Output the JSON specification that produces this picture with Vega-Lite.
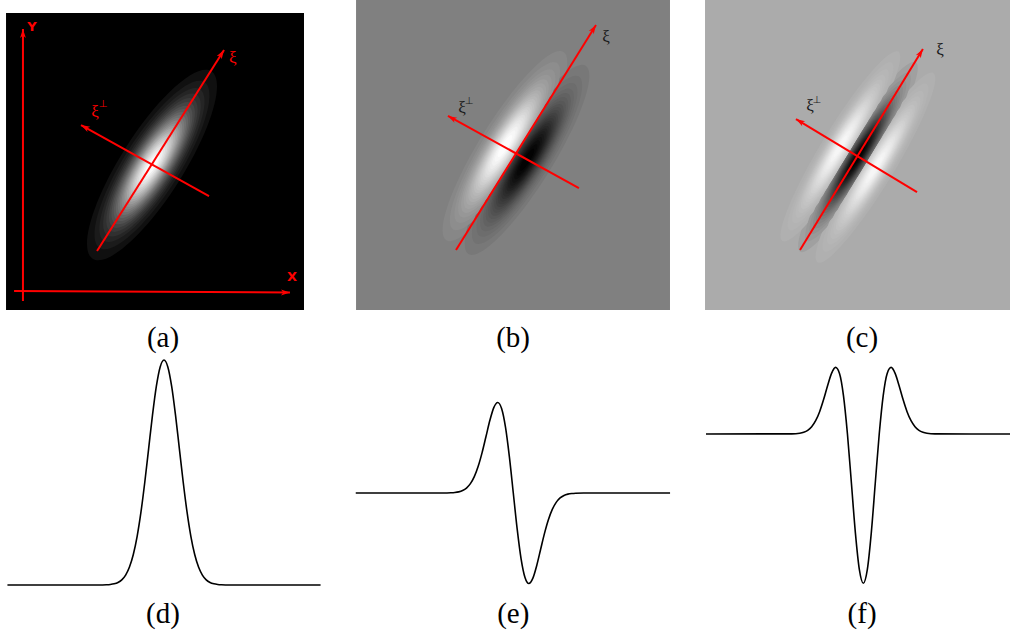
{
  "$schema": "https://vega.github.io/schema/vega-lite/v6.json",
  "padding": 0,
  "background": "white",
  "spacing": 0,
  "config": {"view": {"stroke": null}, "concat": {"spacing": 0}},
  "datasets": {
    "frames": [
      {"panel": "a", "x": -0.983, "x2": 1.0236, "y": -0.976, "y2": 1.0236, "level": 0},
      {"panel": "b", "x": -1.032, "x2": 0.9935, "y": -1.0129, "y2": 0.987, "level": 0.5},
      {"panel": "c", "x": -0.987, "x2": 0.981, "y": -0.987, "y2": 1.0129, "level": 0.67}
    ],
    "blobs": [
      {"panel": "a", "x": 0, "y": 0, "r": 2.521, "level": 0.0625},
      {"panel": "a", "x": 0, "y": 0, "r": 2.229, "level": 0.1042},
      {"panel": "a", "x": 0, "y": 0, "r": 2.039, "level": 0.1458},
      {"panel": "a", "x": 0, "y": 0, "r": 1.893, "level": 0.1875},
      {"panel": "a", "x": 0, "y": 0, "r": 1.771, "level": 0.2292},
      {"panel": "a", "x": 0, "y": 0, "r": 1.665, "level": 0.2708},
      {"panel": "a", "x": 0, "y": 0, "r": 1.570, "level": 0.3125},
      {"panel": "a", "x": 0, "y": 0, "r": 1.482, "level": 0.3542},
      {"panel": "a", "x": 0, "y": 0, "r": 1.401, "level": 0.3958},
      {"panel": "a", "x": 0, "y": 0, "r": 1.323, "level": 0.4375},
      {"panel": "a", "x": 0, "y": 0, "r": 1.249, "level": 0.4792},
      {"panel": "a", "x": 0, "y": 0, "r": 1.177, "level": 0.5208},
      {"panel": "a", "x": 0, "y": 0, "r": 1.107, "level": 0.5625},
      {"panel": "a", "x": 0, "y": 0, "r": 1.038, "level": 0.6042},
      {"panel": "a", "x": 0, "y": 0, "r": 0.970, "level": 0.6458},
      {"panel": "a", "x": 0, "y": 0, "r": 0.9005, "level": 0.6875},
      {"panel": "a", "x": 0, "y": 0, "r": 0.8305, "level": 0.7292},
      {"panel": "a", "x": 0, "y": 0, "r": 0.7585, "level": 0.7708},
      {"panel": "a", "x": 0, "y": 0, "r": 0.6835, "level": 0.8125},
      {"panel": "a", "x": 0, "y": 0, "r": 0.6039, "level": 0.8542},
      {"panel": "a", "x": 0, "y": 0, "r": 0.5168, "level": 0.8958},
      {"panel": "a", "x": 0, "y": 0, "r": 0.4172, "level": 0.9375},
      {"panel": "a", "x": 0, "y": 0, "r": 0.2918, "level": 0.9792},

      {"panel": "b", "x": -0.0712, "y": 0.0443, "r": 2.521, "level": 0.531},
      {"panel": "b", "x": 0.0712, "y": -0.0443, "r": 2.521, "level": 0.469},
      {"panel": "b", "x": -0.0712, "y": 0.0443, "r": 2.229, "level": 0.552},
      {"panel": "b", "x": 0.0712, "y": -0.0443, "r": 2.229, "level": 0.448},
      {"panel": "b", "x": -0.0712, "y": 0.0443, "r": 2.039, "level": 0.573},
      {"panel": "b", "x": 0.0712, "y": -0.0443, "r": 2.039, "level": 0.427},
      {"panel": "b", "x": -0.0712, "y": 0.0443, "r": 1.893, "level": 0.594},
      {"panel": "b", "x": 0.0712, "y": -0.0443, "r": 1.893, "level": 0.406},
      {"panel": "b", "x": -0.0712, "y": 0.0443, "r": 1.771, "level": 0.615},
      {"panel": "b", "x": 0.0712, "y": -0.0443, "r": 1.771, "level": 0.385},
      {"panel": "b", "x": -0.0712, "y": 0.0443, "r": 1.665, "level": 0.635},
      {"panel": "b", "x": 0.0712, "y": -0.0443, "r": 1.665, "level": 0.365},
      {"panel": "b", "x": -0.0712, "y": 0.0443, "r": 1.570, "level": 0.656},
      {"panel": "b", "x": 0.0712, "y": -0.0443, "r": 1.570, "level": 0.344},
      {"panel": "b", "x": -0.0712, "y": 0.0443, "r": 1.482, "level": 0.677},
      {"panel": "b", "x": 0.0712, "y": -0.0443, "r": 1.482, "level": 0.323},
      {"panel": "b", "x": -0.0712, "y": 0.0443, "r": 1.401, "level": 0.698},
      {"panel": "b", "x": 0.0712, "y": -0.0443, "r": 1.401, "level": 0.302},
      {"panel": "b", "x": -0.0712, "y": 0.0443, "r": 1.323, "level": 0.719},
      {"panel": "b", "x": 0.0712, "y": -0.0443, "r": 1.323, "level": 0.281},
      {"panel": "b", "x": -0.0712, "y": 0.0443, "r": 1.249, "level": 0.740},
      {"panel": "b", "x": 0.0712, "y": -0.0443, "r": 1.249, "level": 0.260},
      {"panel": "b", "x": -0.0712, "y": 0.0443, "r": 1.177, "level": 0.760},
      {"panel": "b", "x": 0.0712, "y": -0.0443, "r": 1.177, "level": 0.240},
      {"panel": "b", "x": -0.0712, "y": 0.0443, "r": 1.107, "level": 0.781},
      {"panel": "b", "x": 0.0712, "y": -0.0443, "r": 1.107, "level": 0.219},
      {"panel": "b", "x": -0.0712, "y": 0.0443, "r": 1.038, "level": 0.802},
      {"panel": "b", "x": 0.0712, "y": -0.0443, "r": 1.038, "level": 0.198},
      {"panel": "b", "x": -0.0712, "y": 0.0443, "r": 0.970, "level": 0.823},
      {"panel": "b", "x": 0.0712, "y": -0.0443, "r": 0.970, "level": 0.177},
      {"panel": "b", "x": -0.0712, "y": 0.0443, "r": 0.9005, "level": 0.844},
      {"panel": "b", "x": 0.0712, "y": -0.0443, "r": 0.9005, "level": 0.156},
      {"panel": "b", "x": -0.0712, "y": 0.0443, "r": 0.8305, "level": 0.865},
      {"panel": "b", "x": 0.0712, "y": -0.0443, "r": 0.8305, "level": 0.135},
      {"panel": "b", "x": -0.0712, "y": 0.0443, "r": 0.7585, "level": 0.885},
      {"panel": "b", "x": 0.0712, "y": -0.0443, "r": 0.7585, "level": 0.115},
      {"panel": "b", "x": -0.0712, "y": 0.0443, "r": 0.6835, "level": 0.906},
      {"panel": "b", "x": 0.0712, "y": -0.0443, "r": 0.6835, "level": 0.094},
      {"panel": "b", "x": -0.0712, "y": 0.0443, "r": 0.6039, "level": 0.927},
      {"panel": "b", "x": 0.0712, "y": -0.0443, "r": 0.6039, "level": 0.073},
      {"panel": "b", "x": -0.0712, "y": 0.0443, "r": 0.5168, "level": 0.948},
      {"panel": "b", "x": 0.0712, "y": -0.0443, "r": 0.5168, "level": 0.052},
      {"panel": "b", "x": -0.0712, "y": 0.0443, "r": 0.4172, "level": 0.969},
      {"panel": "b", "x": 0.0712, "y": -0.0443, "r": 0.4172, "level": 0.031},
      {"panel": "b", "x": -0.0712, "y": 0.0443, "r": 0.2918, "level": 0.990},
      {"panel": "b", "x": 0.0712, "y": -0.0443, "r": 0.2918, "level": 0.010},

      {"panel": "c", "x": 0, "y": 0, "r": 2.521, "level": 0.628},
      {"panel": "c", "x": -0.1128, "y": 0.0691, "r": 2.521, "level": 0.689},
      {"panel": "c", "x": 0.1128, "y": -0.0691, "r": 2.521, "level": 0.689},
      {"panel": "c", "x": 0, "y": 0, "r": 2.229, "level": 0.600},
      {"panel": "c", "x": -0.1128, "y": 0.0691, "r": 2.229, "level": 0.701},
      {"panel": "c", "x": 0.1128, "y": -0.0691, "r": 2.229, "level": 0.701},
      {"panel": "c", "x": 0, "y": 0, "r": 2.039, "level": 0.572},
      {"panel": "c", "x": -0.1128, "y": 0.0691, "r": 2.039, "level": 0.714},
      {"panel": "c", "x": 0.1128, "y": -0.0691, "r": 2.039, "level": 0.714},
      {"panel": "c", "x": 0, "y": 0, "r": 1.893, "level": 0.544},
      {"panel": "c", "x": -0.1128, "y": 0.0691, "r": 1.893, "level": 0.726},
      {"panel": "c", "x": 0.1128, "y": -0.0691, "r": 1.893, "level": 0.726},
      {"panel": "c", "x": 0, "y": 0, "r": 1.771, "level": 0.516},
      {"panel": "c", "x": -0.1128, "y": 0.0691, "r": 1.771, "level": 0.739},
      {"panel": "c", "x": 0.1128, "y": -0.0691, "r": 1.771, "level": 0.739},
      {"panel": "c", "x": 0, "y": 0, "r": 1.665, "level": 0.489},
      {"panel": "c", "x": -0.1128, "y": 0.0691, "r": 1.665, "level": 0.751},
      {"panel": "c", "x": 0.1128, "y": -0.0691, "r": 1.665, "level": 0.751},
      {"panel": "c", "x": 0, "y": 0, "r": 1.570, "level": 0.461},
      {"panel": "c", "x": -0.1128, "y": 0.0691, "r": 1.570, "level": 0.764},
      {"panel": "c", "x": 0.1128, "y": -0.0691, "r": 1.570, "level": 0.764},
      {"panel": "c", "x": 0, "y": 0, "r": 1.482, "level": 0.433},
      {"panel": "c", "x": -0.1128, "y": 0.0691, "r": 1.482, "level": 0.776},
      {"panel": "c", "x": 0.1128, "y": -0.0691, "r": 1.482, "level": 0.776},
      {"panel": "c", "x": 0, "y": 0, "r": 1.401, "level": 0.405},
      {"panel": "c", "x": -0.1128, "y": 0.0691, "r": 1.401, "level": 0.789},
      {"panel": "c", "x": 0.1128, "y": -0.0691, "r": 1.401, "level": 0.789},
      {"panel": "c", "x": 0, "y": 0, "r": 1.323, "level": 0.377},
      {"panel": "c", "x": -0.1128, "y": 0.0691, "r": 1.323, "level": 0.801},
      {"panel": "c", "x": 0.1128, "y": -0.0691, "r": 1.323, "level": 0.801},
      {"panel": "c", "x": 0, "y": 0, "r": 1.249, "level": 0.349},
      {"panel": "c", "x": -0.1128, "y": 0.0691, "r": 1.249, "level": 0.814},
      {"panel": "c", "x": 0.1128, "y": -0.0691, "r": 1.249, "level": 0.814},
      {"panel": "c", "x": 0, "y": 0, "r": 1.177, "level": 0.321},
      {"panel": "c", "x": -0.1128, "y": 0.0691, "r": 1.177, "level": 0.826},
      {"panel": "c", "x": 0.1128, "y": -0.0691, "r": 1.177, "level": 0.826},
      {"panel": "c", "x": 0, "y": 0, "r": 1.107, "level": 0.293},
      {"panel": "c", "x": -0.1128, "y": 0.0691, "r": 1.107, "level": 0.839},
      {"panel": "c", "x": 0.1128, "y": -0.0691, "r": 1.107, "level": 0.839},
      {"panel": "c", "x": 0, "y": 0, "r": 1.038, "level": 0.265},
      {"panel": "c", "x": -0.1128, "y": 0.0691, "r": 1.038, "level": 0.851},
      {"panel": "c", "x": 0.1128, "y": -0.0691, "r": 1.038, "level": 0.851},
      {"panel": "c", "x": 0, "y": 0, "r": 0.970, "level": 0.237},
      {"panel": "c", "x": -0.1128, "y": 0.0691, "r": 0.970, "level": 0.864},
      {"panel": "c", "x": 0.1128, "y": -0.0691, "r": 0.970, "level": 0.864},
      {"panel": "c", "x": 0, "y": 0, "r": 0.9005, "level": 0.209},
      {"panel": "c", "x": -0.1128, "y": 0.0691, "r": 0.9005, "level": 0.876},
      {"panel": "c", "x": 0.1128, "y": -0.0691, "r": 0.9005, "level": 0.876},
      {"panel": "c", "x": 0, "y": 0, "r": 0.8305, "level": 0.181},
      {"panel": "c", "x": -0.1128, "y": 0.0691, "r": 0.8305, "level": 0.889},
      {"panel": "c", "x": 0.1128, "y": -0.0691, "r": 0.8305, "level": 0.889},
      {"panel": "c", "x": 0, "y": 0, "r": 0.7585, "level": 0.154},
      {"panel": "c", "x": -0.1128, "y": 0.0691, "r": 0.7585, "level": 0.901},
      {"panel": "c", "x": 0.1128, "y": -0.0691, "r": 0.7585, "level": 0.901},
      {"panel": "c", "x": 0, "y": 0, "r": 0.6835, "level": 0.126},
      {"panel": "c", "x": -0.1128, "y": 0.0691, "r": 0.6835, "level": 0.914},
      {"panel": "c", "x": 0.1128, "y": -0.0691, "r": 0.6835, "level": 0.914},
      {"panel": "c", "x": 0, "y": 0, "r": 0.6039, "level": 0.098},
      {"panel": "c", "x": -0.1128, "y": 0.0691, "r": 0.6039, "level": 0.926},
      {"panel": "c", "x": 0.1128, "y": -0.0691, "r": 0.6039, "level": 0.926},
      {"panel": "c", "x": 0, "y": 0, "r": 0.5168, "level": 0.070},
      {"panel": "c", "x": -0.1128, "y": 0.0691, "r": 0.5168, "level": 0.939},
      {"panel": "c", "x": 0.1128, "y": -0.0691, "r": 0.5168, "level": 0.939},
      {"panel": "c", "x": 0, "y": 0, "r": 0.4172, "level": 0.042},
      {"panel": "c", "x": -0.1128, "y": 0.0691, "r": 0.4172, "level": 0.951},
      {"panel": "c", "x": 0.1128, "y": -0.0691, "r": 0.4172, "level": 0.951},
      {"panel": "c", "x": 0, "y": 0, "r": 0.2918, "level": 0.014},
      {"panel": "c", "x": -0.1128, "y": 0.0691, "r": 0.2918, "level": 0.964},
      {"panel": "c", "x": 0.1128, "y": -0.0691, "r": 0.2918, "level": 0.964}
    ],
    "arrows": [
      {"panel": "a", "x": -0.370, "y": -0.579, "x2": 0.485, "y2": 0.774, "heading": 32.3},
      {"panel": "a", "x": 0.384, "y": -0.209, "x2": -0.478, "y2": 0.269, "heading": -61.0},
      {"panel": "a", "x": -0.869, "y": -0.916, "x2": -0.869, "y2": 0.916, "heading": 0},
      {"panel": "a", "x": -0.929, "y": -0.848, "x2": 0.929, "y2": -0.859, "heading": 90.3},
      {"panel": "b", "x": -0.387, "y": -0.626, "x2": 0.516, "y2": 0.826, "heading": 31.9},
      {"panel": "b", "x": 0.406, "y": -0.226, "x2": -0.439, "y2": 0.239, "heading": -61.2},
      {"panel": "c", "x": -0.374, "y": -0.600, "x2": 0.419, "y2": 0.697, "heading": 31.4},
      {"panel": "c", "x": 0.381, "y": -0.226, "x2": -0.400, "y2": 0.245, "heading": -58.9}
    ],
    "labels": [
      {"panel": "a", "x": 0.544, "y": 0.720, "text": "ξ", "kind": "sym"},
      {"panel": "a", "x": -0.384, "y": 0.357, "text": "ξ", "kind": "sym"},
      {"panel": "a", "x": -0.330, "y": 0.411, "text": "⊥", "kind": "sup"},
      {"panel": "a", "x": -0.808, "y": 0.929, "text": "Y", "kind": "axis"},
      {"panel": "a", "x": 0.943, "y": -0.754, "text": "X", "kind": "axis"},
      {"panel": "b", "x": 0.581, "y": 0.748, "text": "ξ", "kind": "sym"},
      {"panel": "b", "x": -0.348, "y": 0.290, "text": "ξ", "kind": "sym"},
      {"panel": "b", "x": -0.303, "y": 0.335, "text": "⊥", "kind": "sup"},
      {"panel": "c", "x": 0.529, "y": 0.690, "text": "ξ", "kind": "sym"},
      {"panel": "c", "x": -0.310, "y": 0.329, "text": "ξ", "kind": "sym"},
      {"panel": "c", "x": -0.265, "y": 0.368, "text": "⊥", "kind": "sup"}
    ],
    "captions": [
      {"panel": "a", "x": 0.074, "y": -1.165, "text": "(a)"},
      {"panel": "b", "x": -0.019, "y": -1.194, "text": "(b)"},
      {"panel": "c", "x": 0.026, "y": -1.168, "text": "(c)"},
      {"panel": "d", "x": -0.07, "y": -0.1289, "text": "(d)"},
      {"panel": "e", "x": 0, "y": -1.337, "text": "(e)"},
      {"panel": "f", "x": -0.08, "y": -1.2056, "text": "(f)"}
    ],
    "curves": [
      {"panel": "d", "x": -10.2, "y": 0}, {"panel": "d", "x": -4.5, "y": 0}, {"panel": "d", "x": -4, "y": 0.0003},
      {"panel": "d", "x": -3.75, "y": 0.0009}, {"panel": "d", "x": -3.5, "y": 0.0022}, {"panel": "d", "x": -3.25, "y": 0.0051},
      {"panel": "d", "x": -3, "y": 0.0111}, {"panel": "d", "x": -2.75, "y": 0.0228}, {"panel": "d", "x": -2.5, "y": 0.0439},
      {"panel": "d", "x": -2.25, "y": 0.0796}, {"panel": "d", "x": -2, "y": 0.1353}, {"panel": "d", "x": -1.75, "y": 0.2163},
      {"panel": "d", "x": -1.5, "y": 0.3247}, {"panel": "d", "x": -1.25, "y": 0.4578}, {"panel": "d", "x": -1, "y": 0.6065},
      {"panel": "d", "x": -0.75, "y": 0.7548}, {"panel": "d", "x": -0.5, "y": 0.8825}, {"panel": "d", "x": -0.25, "y": 0.9692},
      {"panel": "d", "x": 0, "y": 1},
      {"panel": "d", "x": 0.25, "y": 0.9692}, {"panel": "d", "x": 0.5, "y": 0.8825}, {"panel": "d", "x": 0.75, "y": 0.7548},
      {"panel": "d", "x": 1, "y": 0.6065}, {"panel": "d", "x": 1.25, "y": 0.4578}, {"panel": "d", "x": 1.5, "y": 0.3247},
      {"panel": "d", "x": 1.75, "y": 0.2163}, {"panel": "d", "x": 2, "y": 0.1353}, {"panel": "d", "x": 2.25, "y": 0.0796},
      {"panel": "d", "x": 2.5, "y": 0.0439}, {"panel": "d", "x": 2.75, "y": 0.0228}, {"panel": "d", "x": 3, "y": 0.0111},
      {"panel": "d", "x": 3.25, "y": 0.0051}, {"panel": "d", "x": 3.5, "y": 0.0022}, {"panel": "d", "x": 3.75, "y": 0.0009},
      {"panel": "d", "x": 4, "y": 0.0003}, {"panel": "d", "x": 4.5, "y": 0}, {"panel": "d", "x": 10.2, "y": 0},

      {"panel": "e", "x": -10.1, "y": 0}, {"panel": "e", "x": -4.5, "y": 0}, {"panel": "e", "x": -4, "y": 0.0022},
      {"panel": "e", "x": -3.75, "y": 0.0055}, {"panel": "e", "x": -3.5, "y": 0.0127}, {"panel": "e", "x": -3.25, "y": 0.0272},
      {"panel": "e", "x": -3, "y": 0.0549}, {"panel": "e", "x": -2.75, "y": 0.1034}, {"panel": "e", "x": -2.5, "y": 0.1809},
      {"panel": "e", "x": -2.25, "y": 0.2953}, {"panel": "e", "x": -2, "y": 0.4463}, {"panel": "e", "x": -1.75, "y": 0.6241},
      {"panel": "e", "x": -1.5, "y": 0.8030}, {"panel": "e", "x": -1.25, "y": 0.9436}, {"panel": "e", "x": -1, "y": 1},
      {"panel": "e", "x": -0.75, "y": 0.9334}, {"panel": "e", "x": -0.5, "y": 0.7274}, {"panel": "e", "x": -0.25, "y": 0.3995},
      {"panel": "e", "x": 0, "y": 0},
      {"panel": "e", "x": 0.25, "y": -0.3995}, {"panel": "e", "x": 0.5, "y": -0.7274}, {"panel": "e", "x": 0.75, "y": -0.9334},
      {"panel": "e", "x": 1, "y": -1}, {"panel": "e", "x": 1.25, "y": -0.9436}, {"panel": "e", "x": 1.5, "y": -0.8030},
      {"panel": "e", "x": 1.75, "y": -0.6241}, {"panel": "e", "x": 2, "y": -0.4463}, {"panel": "e", "x": 2.25, "y": -0.2953},
      {"panel": "e", "x": 2.5, "y": -0.1809}, {"panel": "e", "x": 2.75, "y": -0.1034}, {"panel": "e", "x": 3, "y": -0.0549},
      {"panel": "e", "x": 3.25, "y": -0.0272}, {"panel": "e", "x": 3.5, "y": -0.0127}, {"panel": "e", "x": 3.75, "y": -0.0055},
      {"panel": "e", "x": 4, "y": -0.0022}, {"panel": "e", "x": 4.5, "y": 0}, {"panel": "e", "x": 10.05, "y": 0},

      {"panel": "f", "x": -9.9, "y": 0}, {"panel": "f", "x": -4.5, "y": 0.0008}, {"panel": "f", "x": -4, "y": 0.0050},
      {"panel": "f", "x": -3.75, "y": 0.0116}, {"panel": "f", "x": -3.5, "y": 0.0246}, {"panel": "f", "x": -3.25, "y": 0.0487},
      {"panel": "f", "x": -3, "y": 0.0888}, {"panel": "f", "x": -2.75, "y": 0.1496}, {"panel": "f", "x": -2.5, "y": 0.2305},
      {"panel": "f", "x": -2.25, "y": 0.3234}, {"panel": "f", "x": -2, "y": 0.4060}, {"panel": "f", "x": -1.75, "y": 0.4461},
      {"panel": "f", "x": -1.5, "y": 0.4059}, {"panel": "f", "x": -1.25, "y": 0.2575}, {"panel": "f", "x": -1, "y": 0},
      {"panel": "f", "x": -0.75, "y": -0.3302}, {"panel": "f", "x": -0.5, "y": -0.6619}, {"panel": "f", "x": -0.25, "y": -0.9086},
      {"panel": "f", "x": 0, "y": -1},
      {"panel": "f", "x": 0.25, "y": -0.9086}, {"panel": "f", "x": 0.5, "y": -0.6619}, {"panel": "f", "x": 0.75, "y": -0.3302},
      {"panel": "f", "x": 1, "y": 0}, {"panel": "f", "x": 1.25, "y": 0.2575}, {"panel": "f", "x": 1.5, "y": 0.4059},
      {"panel": "f", "x": 1.75, "y": 0.4461}, {"panel": "f", "x": 2, "y": 0.4060}, {"panel": "f", "x": 2.25, "y": 0.3234},
      {"panel": "f", "x": 2.5, "y": 0.2305}, {"panel": "f", "x": 2.75, "y": 0.1496}, {"panel": "f", "x": 3, "y": 0.0888},
      {"panel": "f", "x": 3.25, "y": 0.0487}, {"panel": "f", "x": 3.5, "y": 0.0246}, {"panel": "f", "x": 3.75, "y": 0.0116},
      {"panel": "f", "x": 4, "y": 0.0050}, {"panel": "f", "x": 4.5, "y": 0.0008}, {"panel": "f", "x": 9.3, "y": 0}
    ]
  },
  "vconcat": [
    {
      "spacing": 0,
      "hconcat": [
        {
          "width": 330,
          "height": 356,
          "encoding": {
            "x": {"field": "x", "type": "quantitative", "axis": null, "scale": {"domain": [-1.0236, 1.1987], "nice": false, "zero": false}},
            "y": {"field": "y", "type": "quantitative", "axis": null, "scale": {"domain": [-1.2862, 1.1111], "nice": false, "zero": false}}
          },
          "layer": [
            {
              "data": {"name": "frames"},
              "transform": [{"filter": {"field": "panel", "equal": "a"}}],
              "mark": {"type": "rect"},
              "encoding": {
                "x2": {"field": "x2"}, "y2": {"field": "y2"},
                "color": {"field": "level", "type": "quantitative", "legend": null, "scale": {"domain": [0, 1], "range": ["#000000", "#ffffff"], "interpolate": "rgb"}}
              }
            },
            {
              "data": {"name": "blobs"},
              "transform": [{"filter": {"field": "panel", "equal": "a"}}],
              "mark": {"type": "point", "shape": "M0,-1A0.284,1,0,1,1,0,1A0.284,1,0,1,1,0,-1Z", "filled": true, "opacity": 1, "strokeWidth": 0, "angle": 32.3},
              "encoding": {
                "size": {"field": "r", "type": "quantitative", "legend": null, "scale": {"type": "pow", "exponent": 2, "domain": [0, 3], "range": [0, 69696]}},
                "color": {"field": "level", "type": "quantitative", "legend": null, "scale": {"domain": [0, 1], "range": ["#000000", "#ffffff"], "interpolate": "rgb"}}
              }
            },
            {
              "data": {"name": "arrows"},
              "transform": [{"filter": {"field": "panel", "equal": "a"}}],
              "mark": {"type": "rule", "color": "#ff0000", "strokeWidth": 2},
              "encoding": {"x2": {"field": "x2"}, "y2": {"field": "y2"}}
            },
            {
              "data": {"name": "arrows"},
              "transform": [{"filter": {"field": "panel", "equal": "a"}}],
              "mark": {"type": "point", "shape": "M0,0L0.55,1.7L0,1.25L-0.55,1.7Z", "filled": true, "opacity": 1, "strokeWidth": 0, "color": "#ff0000", "size": 112},
              "encoding": {
                "x": {"field": "x2", "type": "quantitative"},
                "y": {"field": "y2", "type": "quantitative"},
                "angle": {"field": "heading", "type": "quantitative", "scale": null}
              }
            },
            {
              "data": {"name": "labels"},
              "transform": [{"filter": "datum.panel === 'a' && datum.kind === 'sym'"}],
              "mark": {"type": "text", "font": "Liberation Serif", "fontSize": 17, "color": "#ff0000", "align": "center", "baseline": "middle"},
              "encoding": {"text": {"field": "text"}}
            },
            {
              "data": {"name": "labels"},
              "transform": [{"filter": "datum.panel === 'a' && datum.kind === 'sup'"}],
              "mark": {"type": "text", "font": "DejaVu Sans", "fontSize": 10, "color": "#ff0000", "align": "center", "baseline": "middle"},
              "encoding": {"text": {"field": "text"}}
            },
            {
              "data": {"name": "labels"},
              "transform": [{"filter": "datum.panel === 'a' && datum.kind === 'axis'"}],
              "mark": {"type": "text", "font": "DejaVu Sans", "fontSize": 13, "fontWeight": "bold", "color": "#ff0000", "align": "center", "baseline": "middle"},
              "encoding": {"text": {"field": "text"}}
            },
            {
              "data": {"name": "captions"},
              "transform": [{"filter": {"field": "panel", "equal": "a"}}],
              "mark": {"type": "text", "font": "Liberation Serif", "fontSize": 29, "color": "#000000", "align": "center", "baseline": "middle"},
              "encoding": {"text": {"field": "text"}}
            }
          ]
        },
        {
          "width": 358,
          "height": 356,
          "encoding": {
            "x": {"field": "x", "type": "quantitative", "axis": null, "scale": {"domain": [-1.2, 1.1097], "nice": false, "zero": false}},
            "y": {"field": "y", "type": "quantitative", "axis": null, "scale": {"domain": [-1.3097, 0.9871], "nice": false, "zero": false}}
          },
          "layer": [
            {
              "data": {"name": "frames"},
              "transform": [{"filter": {"field": "panel", "equal": "b"}}],
              "mark": {"type": "rect"},
              "encoding": {
                "x2": {"field": "x2"}, "y2": {"field": "y2"},
                "color": {"field": "level", "type": "quantitative", "legend": null, "scale": {"domain": [0, 1], "range": ["#000000", "#ffffff"], "interpolate": "rgb"}}
              }
            },
            {
              "data": {"name": "blobs"},
              "transform": [{"filter": {"field": "panel", "equal": "b"}}],
              "mark": {"type": "point", "shape": "M0,-1A0.225,1,0,1,1,0,1A0.225,1,0,1,1,0,-1Z", "filled": true, "opacity": 1, "strokeWidth": 0, "angle": 31.9},
              "encoding": {
                "size": {"field": "r", "type": "quantitative", "legend": null, "scale": {"type": "pow", "exponent": 2, "domain": [0, 3], "range": [0, 57600]}},
                "color": {"field": "level", "type": "quantitative", "legend": null, "scale": {"domain": [0, 1], "range": ["#000000", "#ffffff"], "interpolate": "rgb"}}
              }
            },
            {
              "data": {"name": "arrows"},
              "transform": [{"filter": {"field": "panel", "equal": "b"}}],
              "mark": {"type": "rule", "color": "#ff0000", "strokeWidth": 2},
              "encoding": {"x2": {"field": "x2"}, "y2": {"field": "y2"}}
            },
            {
              "data": {"name": "arrows"},
              "transform": [{"filter": {"field": "panel", "equal": "b"}}],
              "mark": {"type": "point", "shape": "M0,0L0.55,1.7L0,1.25L-0.55,1.7Z", "filled": true, "opacity": 1, "strokeWidth": 0, "color": "#ff0000", "size": 112},
              "encoding": {
                "x": {"field": "x2", "type": "quantitative"},
                "y": {"field": "y2", "type": "quantitative"},
                "angle": {"field": "heading", "type": "quantitative", "scale": null}
              }
            },
            {
              "data": {"name": "labels"},
              "transform": [{"filter": "datum.panel === 'b' && datum.kind === 'sym'"}],
              "mark": {"type": "text", "font": "Liberation Serif", "fontSize": 17, "color": "#1a1a1a", "align": "center", "baseline": "middle"},
              "encoding": {"text": {"field": "text"}}
            },
            {
              "data": {"name": "labels"},
              "transform": [{"filter": "datum.panel === 'b' && datum.kind === 'sup'"}],
              "mark": {"type": "text", "font": "DejaVu Sans", "fontSize": 10, "color": "#1a1a1a", "align": "center", "baseline": "middle"},
              "encoding": {"text": {"field": "text"}}
            },
            {
              "data": {"name": "captions"},
              "transform": [{"filter": {"field": "panel", "equal": "b"}}],
              "mark": {"type": "text", "font": "Liberation Serif", "fontSize": 29, "color": "#000000", "align": "center", "baseline": "middle"},
              "encoding": {"text": {"field": "text"}}
            }
          ]
        },
        {
          "width": 322,
          "height": 356,
          "encoding": {
            "x": {"field": "x", "type": "quantitative", "axis": null, "scale": {"domain": [-1.0968, 0.981], "nice": false, "zero": false}},
            "y": {"field": "y", "type": "quantitative", "axis": null, "scale": {"domain": [-1.2839, 1.0129], "nice": false, "zero": false}}
          },
          "layer": [
            {
              "data": {"name": "frames"},
              "transform": [{"filter": {"field": "panel", "equal": "c"}}],
              "mark": {"type": "rect"},
              "encoding": {
                "x2": {"field": "x2"}, "y2": {"field": "y2"},
                "color": {"field": "level", "type": "quantitative", "legend": null, "scale": {"domain": [0, 1], "range": ["#000000", "#ffffff"], "interpolate": "rgb"}}
              }
            },
            {
              "data": {"name": "blobs"},
              "transform": [{"filter": {"field": "panel", "equal": "c"}}],
              "mark": {"type": "point", "shape": "M0,-1A0.1625,1,0,1,1,0,1A0.1625,1,0,1,1,0,-1Z", "filled": true, "opacity": 1, "strokeWidth": 0, "angle": 31.4},
              "encoding": {
                "size": {"field": "r", "type": "quantitative", "legend": null, "scale": {"type": "pow", "exponent": 2, "domain": [0, 3], "range": [0, 57600]}},
                "color": {"field": "level", "type": "quantitative", "legend": null, "scale": {"domain": [0, 1], "range": ["#000000", "#ffffff"], "interpolate": "rgb"}}
              }
            },
            {
              "data": {"name": "arrows"},
              "transform": [{"filter": {"field": "panel", "equal": "c"}}],
              "mark": {"type": "rule", "color": "#ff0000", "strokeWidth": 2},
              "encoding": {"x2": {"field": "x2"}, "y2": {"field": "y2"}}
            },
            {
              "data": {"name": "arrows"},
              "transform": [{"filter": {"field": "panel", "equal": "c"}}],
              "mark": {"type": "point", "shape": "M0,0L0.55,1.7L0,1.25L-0.55,1.7Z", "filled": true, "opacity": 1, "strokeWidth": 0, "color": "#ff0000", "size": 112},
              "encoding": {
                "x": {"field": "x2", "type": "quantitative"},
                "y": {"field": "y2", "type": "quantitative"},
                "angle": {"field": "heading", "type": "quantitative", "scale": null}
              }
            },
            {
              "data": {"name": "labels"},
              "transform": [{"filter": "datum.panel === 'c' && datum.kind === 'sym'"}],
              "mark": {"type": "text", "font": "Liberation Serif", "fontSize": 17, "color": "#1a1a1a", "align": "center", "baseline": "middle"},
              "encoding": {"text": {"field": "text"}}
            },
            {
              "data": {"name": "labels"},
              "transform": [{"filter": "datum.panel === 'c' && datum.kind === 'sup'"}],
              "mark": {"type": "text", "font": "DejaVu Sans", "fontSize": 10, "color": "#1a1a1a", "align": "center", "baseline": "middle"},
              "encoding": {"text": {"field": "text"}}
            },
            {
              "data": {"name": "captions"},
              "transform": [{"filter": {"field": "panel", "equal": "c"}}],
              "mark": {"type": "text", "font": "Liberation Serif", "fontSize": 29, "color": "#000000", "align": "center", "baseline": "middle"},
              "encoding": {"text": {"field": "text"}}
            }
          ]
        }
      ]
    },
    {
      "spacing": 0,
      "hconcat": [
        {
          "width": 330,
          "height": 280,
          "encoding": {
            "x": {"field": "x", "type": "quantitative", "axis": null, "scale": {"domain": [-10.684, 10.814], "nice": false, "zero": false}},
            "y": {"field": "y", "type": "quantitative", "axis": null, "scale": {"domain": [-0.2267, 1.0178], "nice": false, "zero": false}}
          },
          "layer": [
            {
              "data": {"name": "curves"},
              "transform": [{"filter": {"field": "panel", "equal": "d"}}],
              "mark": {"type": "line", "color": "#000000", "strokeWidth": 1.6, "interpolate": "monotone", "clip": true},
              "encoding": {}
            },
            {
              "data": {"name": "captions"},
              "transform": [{"filter": {"field": "panel", "equal": "d"}}],
              "mark": {"type": "text", "font": "Liberation Serif", "fontSize": 29, "color": "#000000", "align": "center", "baseline": "middle"},
              "encoding": {"text": {"field": "text"}}
            }
          ]
        },
        {
          "width": 358,
          "height": 280,
          "encoding": {
            "x": {"field": "x", "type": "quantitative", "axis": null, "scale": {"domain": [-11.75, 11.2], "nice": false, "zero": false}},
            "y": {"field": "y", "type": "quantitative", "axis": null, "scale": {"domain": [-1.5801, 1.5138], "nice": false, "zero": false}}
          },
          "layer": [
            {
              "data": {"name": "curves"},
              "transform": [{"filter": {"field": "panel", "equal": "e"}}],
              "mark": {"type": "line", "color": "#000000", "strokeWidth": 1.6, "interpolate": "monotone", "clip": true},
              "encoding": {}
            },
            {
              "data": {"name": "captions"},
              "transform": [{"filter": {"field": "panel", "equal": "e"}}],
              "mark": {"type": "text", "font": "Liberation Serif", "fontSize": 29, "color": "#000000", "align": "center", "baseline": "middle"},
              "encoding": {"text": {"field": "text"}}
            }
          ]
        },
        {
          "width": 322,
          "height": 280,
          "encoding": {
            "x": {"field": "x", "type": "quantitative", "axis": null, "scale": {"domain": [-11.03, 9.226], "nice": false, "zero": false}},
            "y": {"field": "y", "type": "quantitative", "axis": null, "scale": {"domain": [-1.353, 0.5224], "nice": false, "zero": false}}
          },
          "layer": [
            {
              "data": {"name": "curves"},
              "transform": [{"filter": {"field": "panel", "equal": "f"}}],
              "mark": {"type": "line", "color": "#000000", "strokeWidth": 1.6, "interpolate": "monotone", "clip": true},
              "encoding": {}
            },
            {
              "data": {"name": "captions"},
              "transform": [{"filter": {"field": "panel", "equal": "f"}}],
              "mark": {"type": "text", "font": "Liberation Serif", "fontSize": 29, "color": "#000000", "align": "center", "baseline": "middle"},
              "encoding": {"text": {"field": "text"}}
            }
          ]
        }
      ]
    }
  ]
}
